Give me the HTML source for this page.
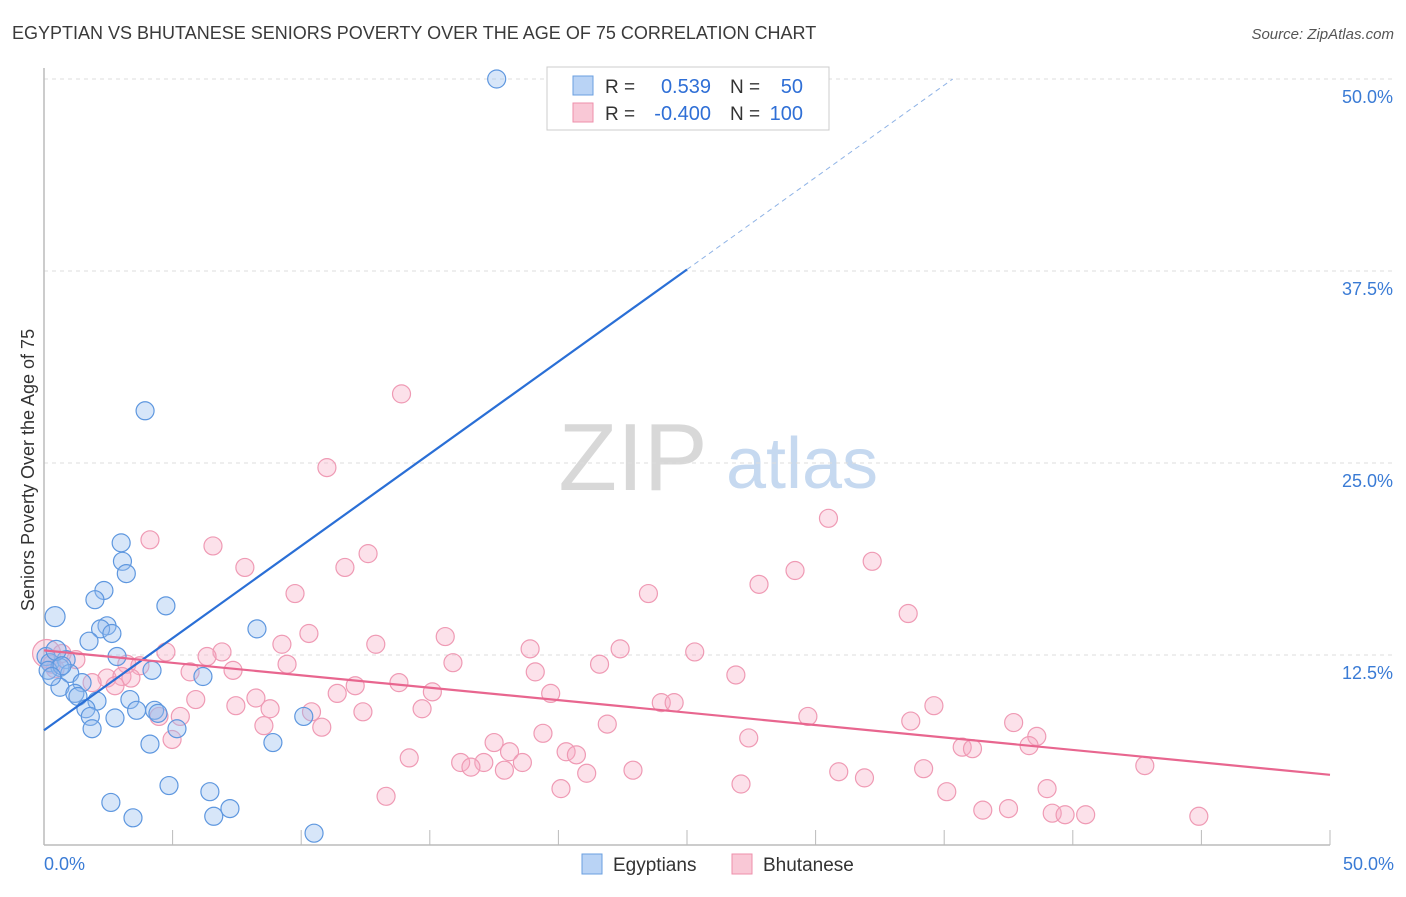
<!DOCTYPE html>
<html><head><meta charset="utf-8"><style>
body{margin:0;background:#fff;font-family:"Liberation Sans",sans-serif;}
svg text{font-family:"Liberation Sans",sans-serif;}
</style></head><body>
<svg width="1406" height="892" viewBox="0 0 1406 892" xmlns="http://www.w3.org/2000/svg">
<text x="12" y="39" font-size="18" fill="#3a3a3a">EGYPTIAN VS BHUTANESE SENIORS POVERTY OVER THE AGE OF 75 CORRELATION CHART</text>
<text x="1394" y="39" font-size="15" fill="#555" text-anchor="end" font-style="italic">Source: ZipAtlas.com</text>
<g>
<text x="633" y="490" font-size="96" fill="#d8d8d8" text-anchor="middle" font-family="Liberation Serif, serif">ZIP</text>
<text x="802" y="488" font-size="72" fill="#c6d9f0" text-anchor="middle">atlas</text>
</g>
<g id="grid"></g>
<g id="axes"></g>
<g id="marks"></g>
<g>
<rect x="547" y="67" width="282" height="63" fill="#fff" stroke="#ccc"/>
<rect x="573" y="76" width="20" height="19" fill="#b9d3f5" stroke="#6a9fe0"/>
<rect x="573" y="103" width="20" height="19" fill="#f9c8d6" stroke="#ee8fab"/>
<text x="605" y="93" font-size="19" fill="#333">R = </text><text x="711" y="93" font-size="20" fill="#2f6fd6" text-anchor="end">0.539</text>
<text x="730" y="93" font-size="19" fill="#333">N =</text><text x="803" y="93" font-size="20" fill="#2f6fd6" text-anchor="end">50</text>
<text x="605" y="120" font-size="19" fill="#333">R = </text><text x="711" y="120" font-size="20" fill="#2f6fd6" text-anchor="end">-0.400</text>
<text x="730" y="120" font-size="19" fill="#333">N =</text><text x="803" y="120" font-size="20" fill="#2f6fd6" text-anchor="end">100</text>
</g>
<g>
<rect x="582" y="854" width="20" height="20" fill="#b9d3f5" stroke="#6a9fe0"/>
<text x="613" y="871" font-size="19" fill="#333">Egyptians</text>
<rect x="732" y="854" width="20" height="20" fill="#f9c8d6" stroke="#ee8fab"/>
<text x="763" y="871" font-size="19" fill="#333">Bhutanese</text>
</g>
<text x="20" y="456" font-size="18" fill="#333" text-anchor="middle" transform="rotate(-90 34 456)">Seniors Poverty Over the Age of 75</text>
</svg>
<script>
const blueX=[17.6,3.93,3.0,3.05,3.2,2.33,1.98,4.74,0.43,2.45,2.2,2.64,1.75,8.28,2.84,0.08,0.23,0.86,0.62,1.0,4.2,6.18,1.48,0.62,1.2,1.32,2.06,3.34,1.63,1.8,3.6,4.3,4.43,2.76,10.1,1.87,5.17,4.12,8.9,4.86,6.45,2.6,7.23,3.46,6.6,10.5,0.16,0.47,0.7,0.3];
const blueY=[50.0,28.4,19.8,18.6,17.8,16.7,16.1,15.7,15.0,14.4,14.2,13.9,13.4,14.2,12.4,12.4,12.0,12.2,11.7,11.3,11.5,11.1,10.7,10.4,10.0,9.8,9.5,9.6,9.0,8.5,8.9,8.9,8.7,8.4,8.5,7.7,7.7,6.7,6.8,4.0,3.6,2.9,2.5,1.9,2.0,0.9,11.5,12.8,11.8,11.1];
const pinkX=[0.1,13.9,11.0,30.5,4.12,6.57,12.6,32.2,7.81,11.7,29.2,27.8,23.5,9.76,33.6,15.6,10.3,9.25,12.9,18.9,22.4,6.92,4.74,25.3,6.34,0.7,1.24,21.6,15.9,9.45,3.22,3.73,0.43,7.35,5.68,19.1,26.9,2.45,3.03,3.38,1.87,13.8,2.76,12.1,15.1,11.4,19.7,8.24,5.9,7.46,24.0,24.5,34.6,8.79,14.7,12.4,4.47,5.3,10.4,29.7,33.7,37.7,21.9,8.55,10.8,38.6,19.4,4.98,27.4,17.5,35.7,36.1,38.3,18.1,20.3,20.7,14.2,16.2,17.1,16.6,18.6,17.9,22.9,34.2,42.8,21.1,30.9,31.9,27.1,20.1,35.1,39.0,13.3,36.5,37.5,39.2,39.7,40.5,44.9,0.3];
const pinkY=[12.6,29.5,24.7,21.4,20.0,19.6,19.1,18.6,18.2,18.2,18.0,17.1,16.5,16.5,15.2,13.7,13.9,13.2,13.2,12.9,12.9,12.7,12.7,12.7,12.4,12.6,12.2,11.9,12.0,11.9,11.9,11.8,11.6,11.5,11.4,11.4,11.2,11.0,11.1,11.0,10.7,10.7,10.5,10.5,10.1,10.0,10.0,9.7,9.6,9.2,9.4,9.4,9.2,9.0,9.0,8.8,8.5,8.5,8.8,8.5,8.2,8.1,8.0,7.9,7.8,7.2,7.4,7.0,7.1,6.8,6.5,6.4,6.6,6.2,6.2,6.0,5.8,5.5,5.5,5.2,5.5,5.0,5.0,5.1,5.3,4.8,4.9,4.5,4.1,3.8,3.6,3.8,3.3,2.4,2.5,2.2,2.1,2.1,2.0,11.9];
const blueTrend=[7.6,1.2];   // intercept, slope
const pinkTrend=[12.8,-0.162];
const yTicks=[12.5,25.0,37.5,50.0];
const yTickLabels=["12.5%","25.0%","37.5%","50.0%"];
const xTicks=[0,5,10,15,20,25,30,35,40,45,50];

const NS="http://www.w3.org/2000/svg";
const X=v=>44+v*(1286/50);
const Y=v=>847-v*(768/50);
function mk(t,a,p){const e=document.createElementNS(NS,t);for(const k in a)e.setAttribute(k,a[k]);p.appendChild(e);return e;}
const grid=document.getElementById('grid'),axes=document.getElementById('axes'),marks=document.getElementById('marks');
yTicks.forEach((v,i)=>{
  const l=mk('line',{x1:44,x2:1395,y1:Y(v),y2:Y(v),stroke:'#ddd','stroke-dasharray':'4,4'},grid);
  
  
  const t=mk('text',{x:1393,y:Y(v)+24,'font-size':18,fill:'#3a7bd5','text-anchor':'end'},axes);
  t.textContent=yTickLabels[i];
  
  
});
let a=mk('line',{x1:44,x2:44,y1:68,y2:845,stroke:'#bbb','stroke-width':1.5},axes);


a=mk('line',{x1:44,x2:1330,y1:845,y2:845,stroke:'#bbb','stroke-width':1.5},axes);


xTicks.forEach(v=>{
  const t=mk('line',{x1:X(v),x2:X(v),y1:830,y2:845,stroke:'#bbb'},axes);
  
  
});
let tl=mk('text',{x:44,y:870,'font-size':18,fill:'#3a7bd5'},axes);tl.textContent='0.0%';


tl=mk('text',{x:1394,y:870,'font-size':18,fill:'#3a7bd5','text-anchor':'end'},axes);tl.textContent='50.0%';



pinkX.forEach((x,i)=>{
  const c=mk('circle',{cx:X(x),cy:Y(pinkY[i]),r:i==0?14:9,fill:'rgba(246,170,195,0.35)',stroke:'#ef9ab4','stroke-width':1.2},marks);
  
  
});
blueX.forEach((x,i)=>{
  const c=mk('circle',{cx:X(x),cy:Y(blueY[i]),r:(i==8||i==47)?10:9,fill:'rgba(150,190,240,0.38)',stroke:'#5e97df','stroke-width':1.2},marks);
  
  
});
const bf=x=>blueTrend[0]+blueTrend[1]*x;
let tr=mk('line',{x1:X(0),y1:Y(bf(0)),x2:X(25),y2:Y(bf(25)),stroke:'#2a6fd6','stroke-width':2.2},marks);


const xe=(50-blueTrend[0])/blueTrend[1];
tr=mk('line',{x1:X(25),y1:Y(bf(25)),x2:X(xe),y2:Y(bf(xe)),stroke:'#8fb3e6','stroke-width':1,'stroke-dasharray':'5,4'},marks);


const pf=x=>pinkTrend[0]+pinkTrend[1]*x;
tr=mk('line',{x1:X(0),y1:Y(pf(0)),x2:X(50),y2:Y(pf(50)),stroke:'#e8668f','stroke-width':2.2},marks);


</script>
</body></html>
